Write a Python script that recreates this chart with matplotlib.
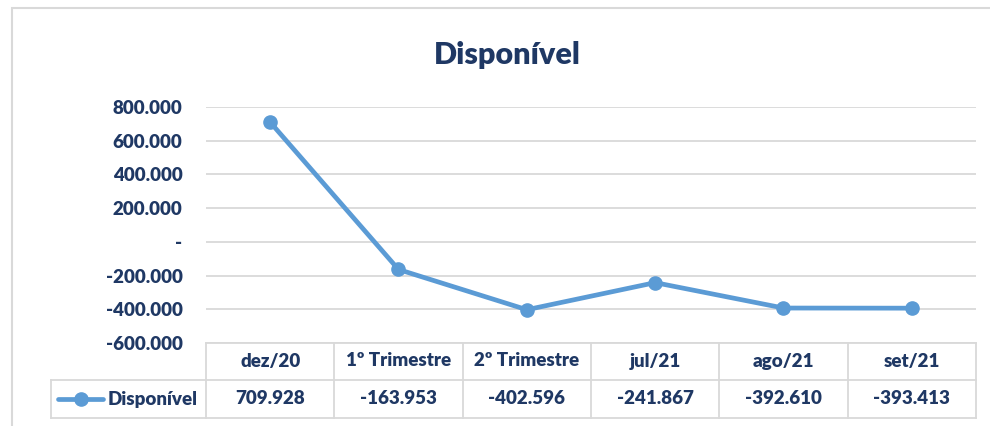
import matplotlib
matplotlib.use("Agg")
import matplotlib.pyplot as plt
from matplotlib.patches import Rectangle
from matplotlib.lines import Line2D
import matplotlib.transforms as mtrans

categories = ["dez/20", "1º Trimestre", "2º Trimestre", "jul/21", "ago/21", "set/21"]
values = [709928, -163953, -402596, -241867, -392610, -393413]
value_labels = ["709.928", "-163.953", "-402.596", "-241.867", "-392.610", "-393.413"]
yticks = [-600000, -400000, -200000, 0, 200000, 400000, 600000, 800000]
ytick_labels = ["-600.000", "-400.000", "-200.000", "-", "200.000", "400.000", "600.000", "800.000"]
series_name = "Disponível"
title = "Disponível"

W, H = 990, 426
TXT = "#1F3864"
LINE = "#5B9BD5"
GRID = "#D9D9D9"
FONT = "Lato"
WT = "heavy"
FS = 13.5

fig = plt.figure(figsize=(W / 100, H / 100), dpi=100)
fig.patch.set_facecolor("white")

# outer chart border
fig.patches.append(Rectangle((12 / W, -0.2), 1.2, 1.2 - 8 / H, transform=fig.transFigure,
                             fill=False, edgecolor=GRID, linewidth=1.5, zorder=0))

ax = fig.add_axes([206 / W, 1 - 343 / H, (976 - 206) / W, (343 - 107) / H])
ax.set_xlim(-0.5, len(categories) - 0.5)
ax.set_ylim(-600000, 800000)
for s in ax.spines.values():
    s.set_visible(False)
ax.set_yticks(yticks)
ax.set_yticklabels(ytick_labels, fontfamily=FONT, fontweight=WT, fontsize=FS, color=TXT)
ax.tick_params(axis="y", length=0, pad=17)
ax.set_xticks([])
ax.grid(axis="y", color=GRID, linewidth=1.3)
ax.set_axisbelow(True)

x = list(range(len(categories)))
ax.plot(x, values, color=LINE, linewidth=3.4, marker="o", markersize=9.5,
        solid_capstyle="round", zorder=3, clip_on=False)

fig.text(507 / W, 1 - 55 / H, title, ha="center", va="center", fontfamily=FONT,
         fontweight=WT, fontsize=22, color=TXT)

# data table
trans = mtrans.blended_transform_factory(ax.transData, ax.transAxes)
axh = 343 - 107
y_row1 = -(380 - 343) / axh
y_row2 = -(418 - 343) / axh
y_c1 = -(361 - 343) / axh
y_c2 = -(399 - 343) / axh
n = len(categories)
lw = 1.3
ax.add_line(Line2D([-0.5, n - 0.5], [0, 0], transform=trans, color=GRID, lw=lw, clip_on=False))
ax.add_line(Line2D([-0.5, n - 0.5], [y_row1, y_row1], transform=trans, color=GRID, lw=lw, clip_on=False))
ax.add_line(Line2D([-0.5, n - 0.5], [y_row2, y_row2], transform=trans, color=GRID, lw=lw, clip_on=False))
for i in range(n + 1):
    ax.add_line(Line2D([i - 0.5, i - 0.5], [0, y_row2], transform=trans, color=GRID, lw=lw, clip_on=False))
# legend cell
figtr = fig.transFigure
fx0 = 51 / W
fy1 = 1 - 380 / H
fy2 = 1 - 418 / H
fig.add_artist(Line2D([fx0, 206 / W], [fy1, fy1], transform=figtr, color=GRID, lw=lw))
fig.add_artist(Line2D([fx0, 206 / W], [fy2, fy2], transform=figtr, color=GRID, lw=lw))
fig.add_artist(Line2D([fx0, fx0], [fy1, fy2], transform=figtr, color=GRID, lw=lw))
fy_c = 1 - 399 / H
fig.add_artist(Line2D([58 / W, 103 / W], [fy_c, fy_c], transform=figtr, color=LINE, lw=3.4,
                      solid_capstyle="round"))
fig.add_artist(Line2D([80.5 / W], [fy_c], transform=figtr, color=LINE, marker="o", markersize=9.5))
fig.text(108 / W, fy_c, series_name, ha="left", va="center", fontfamily=FONT,
         fontweight=WT, fontsize=FS, color=TXT)

for i, (c, v) in enumerate(zip(categories, value_labels)):
    ax.text(i, y_c1, c, transform=trans, ha="center", va="center", fontfamily=FONT,
            fontweight=WT, fontsize=FS, color=TXT)
    ax.text(i, y_c2, v, transform=trans, ha="center", va="center", fontfamily=FONT,
            fontweight=WT, fontsize=FS, color=TXT)

fig.savefig("out.png", dpi=100, facecolor="white")
